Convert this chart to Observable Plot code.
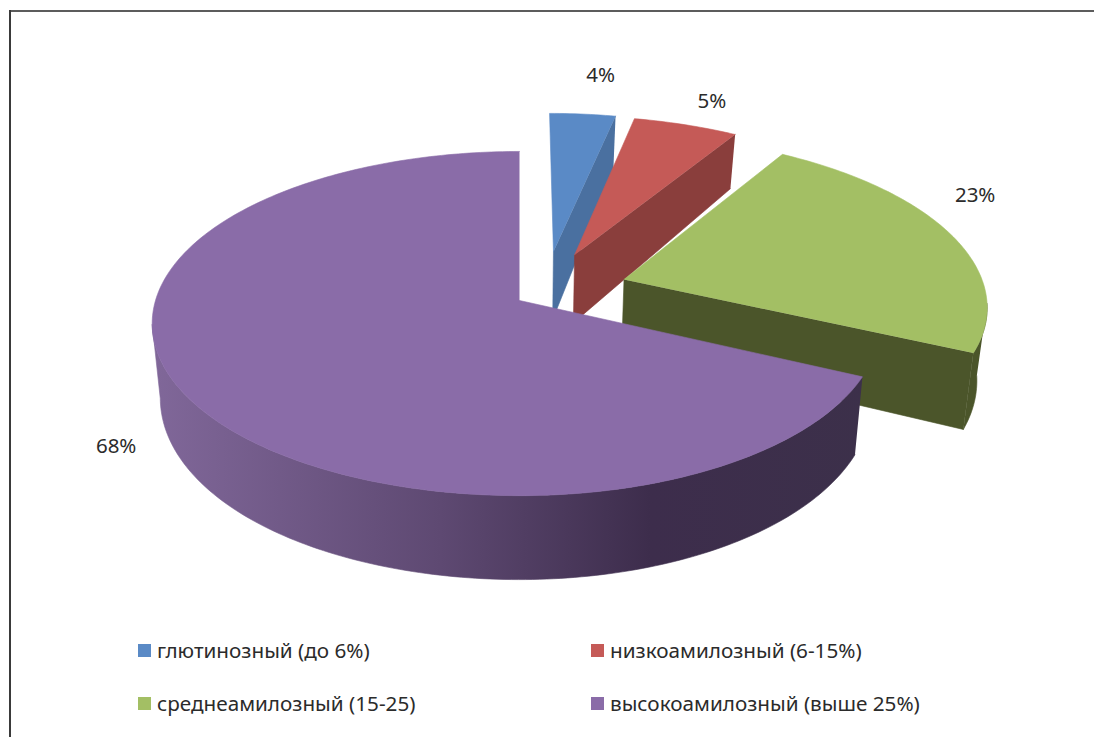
<!DOCTYPE html>
<html><head><meta charset="utf-8">
<script src="https://cdn.jsdelivr.net/npm/d3@7"></script>
<script src="https://cdn.jsdelivr.net/npm/@observablehq/plot@0.6"></script>
<style>
html,body{margin:0;padding:0;background:#fff}
#wrap{position:relative;width:1094px;height:737px;overflow:hidden;font-family:"Noto Sans",sans-serif;color:#2b2b2b}
#frameT{position:absolute;left:9px;top:10px;right:0;height:2px;background:#5c5c5c}
#frameL{position:absolute;left:9px;top:10px;bottom:0;width:2px;background:#3a3a3a}
.sw{position:absolute;width:13px;height:13px}
.lt{position:absolute;font-size:20.7px;line-height:24px;white-space:nowrap}
svg{position:absolute;left:0;top:0}
</style></head><body>
<div id="wrap"><div id="frameT"></div><div id="frameL"></div></div>
<script>
// data
const categories = ["глютинозный (до 6%)","низкоамилозный (6-15%)","среднеамилозный (15-25)","высокоамилозный (выше 25%)"];
const shares = [3.4,5.4,23.2,68];
const percentLabels = ["4%","5%","23%","68%"];
// styling
const topColors = ["#5a8ac6","#c55a57","#a3bf64","#8a6ca8"];
const wallColors = ["#4a70a0","#8a3e3c","#4b552a","url(#purpleWall)"];
const explode = [[.097,.30],[.157,.28],[.292,.127],[0,0]];
const labelR = [1.33,1.21,1.205,1.26];
const labelTurn = [1.4,.9,-10.5,-5.6];
const rightSqueeze = [1,1,1,.982];
const legendPos = [[138,644,157],[591,644,610],[138,697,157],[591,697,610]];
const wallStops = [[155,"#806799"],[440,"#5e4972"],[650,"#3d2d4c"],[870,"#3c304a"]];
// projection of the tilted disc
const cx=519, cy=300, R=364, Rk=169, p=.134, k0=.978;
const rad=d=>d*Math.PI/180;
function upper(u,v,sq=1){const s=1/(1+p*v);return {x:cx+R*u*s*(u>0?sq:1),y:cy-Rk*v*s,s};}
function lower(q){const t=q.s-1;const d=72.2+108.8*t-212.6*t*t;return {x:cx+(q.x-cx)*k0,y:q.y+d};}
const total=d3.sum(shares);
let acc=0;
const slices=shares.map((v,i)=>{const a0=acc/total*360;acc+=v;const a1=acc/total*360;return {i,a0,a1};});
const face=(pts,fill)=>Plot.line(pts,{x:"x",y:"y",fill,stroke:fill,strokeWidth:.6,strokeLinejoin:"round",curve:"linear"});
const marks=[];
// horizontal shading of the large slice's rim
marks.push(()=>{
  const defs=d3.create("svg:defs");
  const g=defs.append("linearGradient").attr("id","purpleWall").attr("gradientUnits","userSpaceOnUse")
    .attr("x1",wallStops[0][0]).attr("x2",wallStops[wallStops.length-1][0]).attr("y1",0).attr("y2",0);
  const span=wallStops[wallStops.length-1][0]-wallStops[0][0];
  wallStops.forEach(([x,c])=>g.append("stop").attr("offset",(x-wallStops[0][0])/span).attr("stop-color",c));
  return defs.node();
});
slices.forEach(sl=>{
  const [ou,ov]=explode[sl.i];
  const n=Math.max(6,Math.ceil(sl.a1-sl.a0));
  const angles=d3.range(n+1).map(j=>rad(sl.a0+(sl.a1-sl.a0)*j/n));
  const pts=angles.map(a=>upper(ou+Math.sin(a),ov+Math.cos(a),rightSqueeze[sl.i]));
  const ap=upper(ou,ov);
  // outer rim: from silhouette tangent to silhouette tangent
  const front=pts.filter((q,j)=>Math.cos(angles[j])<=-p);
  if(front.length>1) marks.push(face([...front,...front.slice().reverse().map(q=>lower(q))],wallColors[sl.i]));
  // cut face along the clockwise edge (hidden on the large slice)
  if(sl.i<3){const e=pts[n];marks.push(face([e,ap,lower(ap),lower(e)],wallColors[sl.i]));}
  marks.push(face([ap,...pts],topColors[sl.i]));
});
// percentage labels
const labelData=slices.map(sl=>{
  const [ou,ov]=explode[sl.i];
  const a=rad((sl.a0+sl.a1)/2+labelTurn[sl.i]);
  const q=upper(ou+labelR[sl.i]*Math.sin(a),ov+labelR[sl.i]*Math.cos(a));
  return {x:q.x,y:q.y,t:percentLabels[sl.i]};
});
marks.push(Plot.text(labelData,{x:"x",y:"y",text:"t",fontSize:20.5,fill:"#2b2b2b",fontFamily:"Noto Sans"}));
const chart=Plot.plot({width:1094,height:737,margin:0,
  x:{domain:[0,1094],range:[0,1094],axis:null},
  y:{domain:[0,737],range:[0,737],axis:null},
  marks});
chart.style.background="transparent";
const wrap=document.getElementById("wrap");
wrap.appendChild(chart);
categories.forEach((c,i)=>{
  const [sx,sy,tx]=legendPos[i];
  const s=document.createElement("div");s.className="sw";s.style.left=sx+"px";s.style.top=sy+"px";s.style.background=topColors[i];wrap.appendChild(s);
  const t=document.createElement("div");t.className="lt";t.style.left=tx+"px";t.style.top=(sy-6)+"px";t.textContent=c;wrap.appendChild(t);
});
</script></body></html>
